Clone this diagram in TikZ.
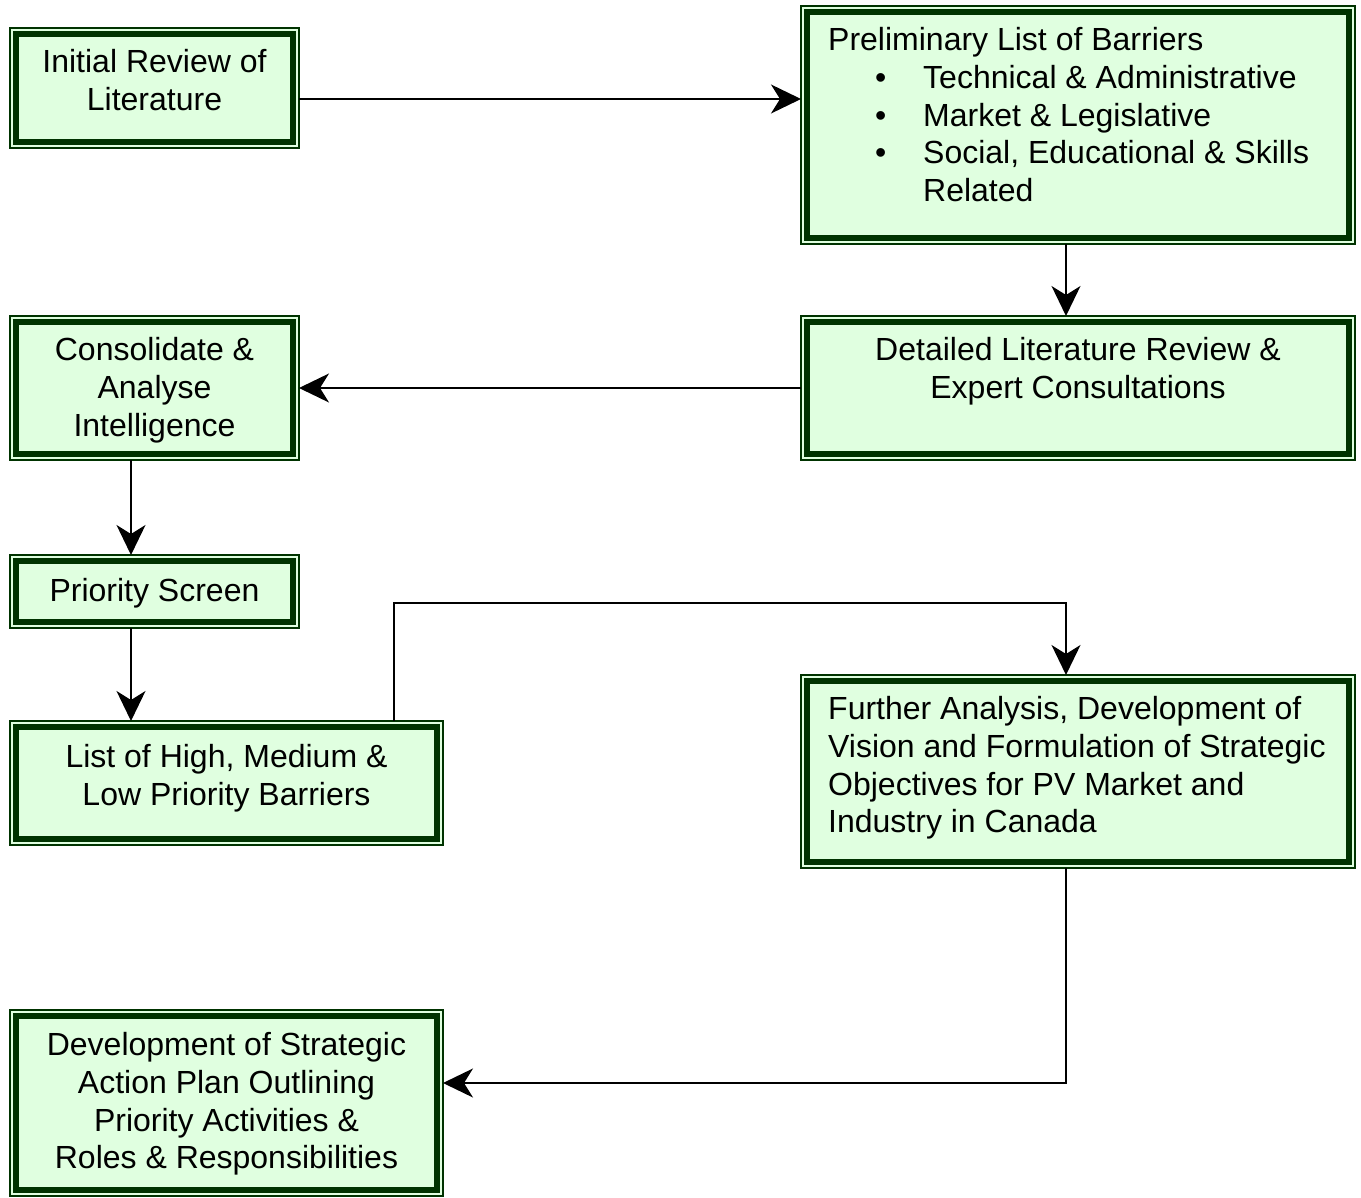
\documentclass[tikz,border=0pt]{standalone}
\usepackage{fontspec}
\setmainfont{Liberation Sans}
\usetikzlibrary{arrows.meta,positioning}
\definecolor{dg}{HTML}{003300}
\definecolor{lg}{HTML}{E0FFE0}
\tikzset{
  box/.style={draw=dg, line width=1.2pt, fill=lg, inner sep=0pt, outer sep=0pt, rectangle},
  inframe/.style={draw=dg, line width=6pt},
  txt/.style={inner sep=0pt, font=\fontsize{32}{37.7}\selectfont},
  conn/.style={draw=black, line width=1.5pt, -{Stealth[length=30pt, width=29pt, inset=9pt]}},
}
\newcommand{\bul}{\hspace*{47pt}\makebox[48pt][l]{\textbullet}}
\begin{document}
\begin{tikzpicture}[x=1pt,y=-1pt]
\useasboundingbox (0,0) rectangle (1361,1198);
\node[box, minimum width=289pt, minimum height=120pt] (b1) at (154.5,88) {};
\node[box, minimum width=554pt, minimum height=238pt] (b2) at (1078,125) {};
\node[box, minimum width=554pt, minimum height=144pt] (b3) at (1078,388) {};
\node[box, minimum width=289pt, minimum height=144pt] (b4) at (154.5,388) {};
\node[box, minimum width=289pt, minimum height=73pt] (b5) at (154.5,591.5) {};
\node[box, minimum width=433pt, minimum height=124pt] (b6) at (226.5,783) {};
\node[box, minimum width=554pt, minimum height=193pt] (b7) at (1078,771.5) {};
\node[box, minimum width=433pt, minimum height=186pt] (b8) at (226.5,1103) {};
\foreach \n in {b1,b2,b3,b4,b5,b6,b7,b8}
  \draw[inframe] ([xshift=6pt,yshift=-6pt]\n.north west) rectangle ([xshift=-6pt,yshift=6pt]\n.south east);

\node[txt, anchor=north, align=center] (t1) at ([yshift=-21.5pt]b1.north) {Initial Review of\\Literature};
\node[txt, anchor=north west, align=left] (t2) at ([xshift=27pt,yshift=-21.5pt]b2.north west)
  {Preliminary List of Barriers\\\bul Technical \& Administrative\\\bul Market \& Legislative\\\bul Social, Educational \& Skills\\\hspace*{95pt}Related};
\node[txt, anchor=north, align=center] (t3) at ([yshift=-21.5pt]b3.north) {Detailed Literature Review \&\\Expert Consultations};
\node[txt, anchor=north, align=center] (t4) at ([yshift=-21.5pt]b4.north) {Consolidate \&\\Analyse\\Intelligence};
\node[txt, anchor=north, align=center] (t5) at ([yshift=-23.5pt]b5.north) {Priority Screen};
\node[txt, anchor=north, align=center] (t6) at ([yshift=-23.5pt]b6.north) {List of High, Medium \&\\Low Priority Barriers};
\node[txt, anchor=north west, align=left] (t7) at ([xshift=27pt,yshift=-21.5pt]b7.north west)
  {Further Analysis, Development of\\Vision and Formulation of Strategic\\Objectives for PV Market and\\Industry in Canada};
\node[txt, anchor=north, align=center] (t8) at ([yshift=-22.5pt]b8.north) {Development of Strategic\\Action Plan Outlining\\Priority Activities \&\\Roles \& Responsibilities};

\coordinate (c1) at (0,99);
\coordinate (c6) at (394,721);
\coordinate (c7) at (1066,675);
\coordinate (c8) at (443,1083);

\draw[conn] (b1.east |- c1) -- (b2.west |- c1);
\draw[conn] (b2.south -| c7) -- (b3.north -| c7);
\draw[conn] (b3.west) -- (b4.east);
\draw[conn] ([xshift=-23.5pt]b4.south) -- ([xshift=-23.5pt]b5.north);
\draw[conn] ([xshift=-23.5pt]b5.south) -- (b6.north -| 131,0);
\draw[conn] (b6.north -| c6) -- (394,603) -- (1066,603) -- (b7.north -| c7);
\draw[conn] (b7.south -| c7) -- (c7 |- c8) -- (b8.east |- c8);
\end{tikzpicture}
\end{document}
